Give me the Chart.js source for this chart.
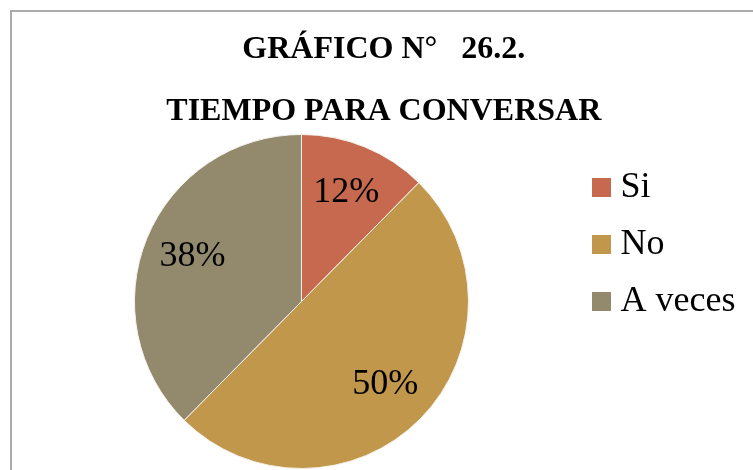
<!DOCTYPE html>
<html>
<head>
<meta charset="utf-8">
<script src="https://cdn.jsdelivr.net/npm/chart.js@4.4.1/dist/chart.umd.min.js"></script>
<style>
  html, body { margin: 0; padding: 0; background: #fff; overflow: hidden; }
  .frame { position: absolute; left: 10px; top: 10px; width: 800px; height: 500px;
           border-top: 2px solid #ababab; border-left: 2px solid #ababab; }
  canvas { position: absolute; left: 0; top: 0; }
</style>
</head>
<body>
<div class="frame"></div>
<canvas id="pie-chart" width="770" height="470"></canvas>
<script>
const titleLines = ['GRÁFICO N°   26.2.', 'TIEMPO PARA CONVERSAR'];
const categories = ['Si', 'No', 'A veces'];
const percentages = [12.4, 50, 37.6];
const sliceColors = ['#c6694f', '#c0974b', '#938a6e'];

const serif = "'Liberation Serif', 'Times New Roman', Times, serif";

// little filled squares used as legend markers
const swatches = sliceColors.map((color) => {
  const c = document.createElement('canvas');
  c.width = 19;
  c.height = 19;
  const g = c.getContext('2d');
  g.fillStyle = color;
  g.fillRect(0, 0, 19, 19);
  return c;
});

const percentLabels = {
  id: 'percentLabels',
  afterDatasetsDraw(chart) {
    const ctx = chart.ctx;
    const meta = chart.getDatasetMeta(0);
    ctx.save();
    ctx.font = '36px ' + serif;
    ctx.fillStyle = '#000';
    ctx.textAlign = 'center';
    ctx.textBaseline = 'middle';
    meta.data.forEach((arc, i) => {
      const p = arc.getProps(['x', 'y', 'startAngle', 'endAngle', 'outerRadius'], true);
      const mid = (p.startAngle + p.endAngle) / 2;
      const r = p.outerRadius * 0.705;
      ctx.fillText(Math.round(percentages[i]) + '%', p.x + Math.cos(mid) * r, p.y + Math.sin(mid) * r);
    });
    ctx.restore();
  }
};

const pieCtx = document.getElementById('pie-chart').getContext('2d');
new Chart(pieCtx, {
  type: 'pie',
  data: {
    labels: categories,
    datasets: [{
      data: percentages,
      backgroundColor: sliceColors,
      borderColor: '#f4f0ea',
      borderWidth: 1
    }]
  },
  options: {
    responsive: false,
    animation: false,
    events: [],
    layout: {
      padding: { left: 22.2, right: 24.6, top: 0, bottom: 1 }
    },
    plugins: {
      title: {
        display: true,
        text: titleLines,
        color: '#000',
        font: { family: serif, size: 32, weight: 'bold', lineHeight: 1.9375 },
        padding: { top: 19.2, bottom: -9.2 }
      },
      legend: {
        position: 'right',
        align: 'start',
        fullSize: false,
        title: {
          display: true,
          text: ' ',
          padding: 0,
          font: { size: 10, lineHeight: 1.52 }
        },
        labels: {
          usePointStyle: true,
          boxWidth: 1,
          padding: 20.7,
          color: '#000',
          font: { family: serif, size: 36 },
          generateLabels: () => categories.map((name, i) => ({
            text: name,
            fillStyle: sliceColors[i],
            strokeStyle: sliceColors[i],
            lineWidth: 0,
            pointStyle: swatches[i],
            fontColor: '#000',
            hidden: false,
            index: i
          }))
        }
      },
      tooltip: { enabled: false }
    }
  },
  plugins: [percentLabels]
});
</script>
</body>
</html>
